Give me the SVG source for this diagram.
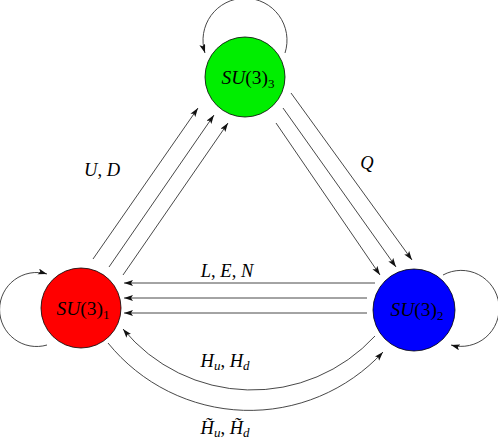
<svg xmlns="http://www.w3.org/2000/svg" width="498" height="442" viewBox="0 0 498 442">
<style>
.edge{fill:none;stroke:#333;stroke-width:0.9}
.node{stroke:#000;stroke-width:0.8}
text{font-family:"Liberation Serif","DejaVu Serif",serif;fill:#000}
.lbl{font-size:18.5px}
.nl{font-size:19.5px}
.i{font-style:italic}
.sub{font-size:13px}
</style>
<defs>
<marker id="ah" markerUnits="userSpaceOnUse" markerWidth="10" markerHeight="8" refX="9" refY="3" orient="auto">
<path d="M0,0 L9,3 L0,6 L2,3 z" fill="#111"/>
</marker>
</defs>
<g id="connectors">
<path class="edge" d="M285,53 A42,42 0 1 0 205,53" marker-end="url(#ah)"/>
<path class="edge" d="M47,345 A37,37 0 1 1 47,274" marker-end="url(#ah)"/>
<path class="edge" d="M443,275 A38,38 0 1 1 451,345" marker-end="url(#ah)"/>
<path class="edge" d="M93,259 L198,108" marker-end="url(#ah)"/>
<path class="edge" d="M109,267 L214,115" marker-end="url(#ah)"/>
<path class="edge" d="M123,275 L228,123" marker-end="url(#ah)"/>
<path class="edge" d="M291,93 L412,260" marker-end="url(#ah)"/>
<path class="edge" d="M283,108 L396,267" marker-end="url(#ah)"/>
<path class="edge" d="M276,123 L380,275" marker-end="url(#ah)"/>
<path class="edge" d="M375,283 L124,283" marker-end="url(#ah)"/>
<path class="edge" d="M367,298 L124,298" marker-end="url(#ah)"/>
<path class="edge" d="M367,313 L124,313" marker-end="url(#ah)"/>
<path class="edge" d="M375,336 A167,167 0 0 1 123,329" marker-end="url(#ah)"/>
<path class="edge" d="M108,343 A182,182 0 0 0 383,352" marker-end="url(#ah)"/>
</g>
<g id="node-su3-3">
<circle class="node" cx="245" cy="77" r="40" fill="#00ee00"/>
<text class="nl" x="248" y="84" text-anchor="middle"><tspan class="i">SU</tspan>(3)<tspan class="sub" dy="4">3</tspan></text>
</g>
<g id="node-su3-1">
<circle class="node" cx="81" cy="308" r="40" fill="#ff0000"/>
<text class="nl" x="83" y="315" text-anchor="middle"><tspan class="i">SU</tspan>(3)<tspan class="sub" dy="4">1</tspan></text>
</g>
<g id="node-su3-2">
<circle class="node" cx="414" cy="310" r="41" fill="#0000ff"/>
<text class="nl" x="417" y="316" text-anchor="middle"><tspan class="i">SU</tspan>(3)<tspan class="sub" dy="4">2</tspan></text>
</g>
<g id="labels">
<text class="lbl" x="102" y="176" text-anchor="middle"><tspan class="i">U</tspan>, <tspan class="i">D</tspan></text>
<text class="lbl i" x="367" y="169" text-anchor="middle">Q</text>
<text class="lbl" x="227" y="277" text-anchor="middle"><tspan class="i">L</tspan>, <tspan class="i">E</tspan>, <tspan class="i">N</tspan></text>
<text class="lbl" x="225" y="367" text-anchor="middle"><tspan class="i">H</tspan><tspan class="sub i" dy="3">u</tspan><tspan dy="-3">, </tspan><tspan class="i">H</tspan><tspan class="sub i" dy="3">d</tspan></text>
<text class="lbl" x="225" y="434" text-anchor="middle"><tspan class="i">H&#x303;</tspan><tspan class="sub i" dy="3">u</tspan><tspan dy="-3">, </tspan><tspan class="i">H&#x303;</tspan><tspan class="sub i" dy="3">d</tspan></text>
</g>
</svg>
